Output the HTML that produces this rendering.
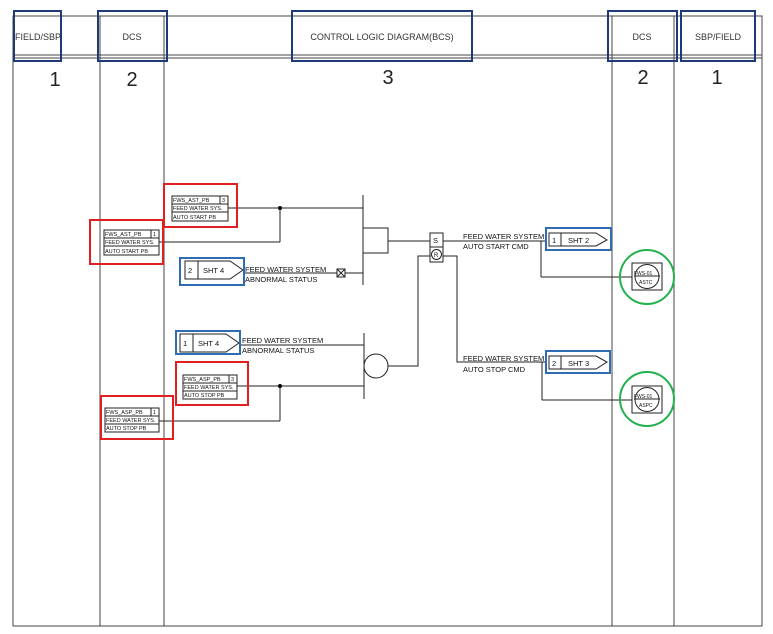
<!DOCTYPE html>
<html><head><style>body{margin:0;background:#fff}svg{display:block}text{font-family:"Liberation Sans",sans-serif}</style></head><body>
<svg width="773" height="634" viewBox="0 0 773 634" xmlns="http://www.w3.org/2000/svg">
<g stroke="#444" fill="none" stroke-width="1">
<rect x="13" y="16" width="749" height="610"/>
<line x1="13" y1="55" x2="762" y2="55"/><line x1="13" y1="58" x2="762" y2="58"/>
<line x1="100" y1="16" x2="100" y2="626"/><line x1="164" y1="16" x2="164" y2="626"/>
<line x1="612" y1="16" x2="612" y2="626"/><line x1="674" y1="16" x2="674" y2="626"/>
</g>
<g stroke="#1f3a7a" fill="none" stroke-width="2">
<rect x="14" y="11" width="47" height="50"/><rect x="98" y="11" width="69" height="50"/>
<rect x="292" y="11" width="180" height="50"/><rect x="608" y="11" width="69" height="50"/>
<rect x="681" y="11" width="74" height="50"/>
</g>
<g font-size="9" fill="#333" text-anchor="middle">
<text x="38" y="40">FIELD/SBP</text><text x="132" y="40">DCS</text>
<text x="382" y="40">CONTROL LOGIC DIAGRAM(BCS)</text><text x="642" y="40">DCS</text><text x="718" y="40">SBP/FIELD</text>
</g>
<g font-size="20" fill="#222" text-anchor="middle">
<text x="55" y="86">1</text><text x="132" y="86">2</text><text x="388" y="84">3</text><text x="643" y="84">2</text><text x="717" y="84">1</text>
</g>
<!-- lines -->
<g stroke="#222" fill="none" stroke-width="1">
<line x1="228" y1="208" x2="363" y2="208"/><line x1="159" y1="242" x2="280" y2="242"/><line x1="280" y1="208" x2="280" y2="242"/>
<line x1="243" y1="273" x2="337" y2="273"/><rect x="337" y="269" width="8" height="8"/><line x1="337" y1="269" x2="345" y2="277"/><line x1="345" y1="269" x2="337" y2="277"/>
<line x1="345" y1="273" x2="363" y2="273"/>
<line x1="363" y1="195" x2="363" y2="285"/>
<rect x="363" y="228" width="25" height="25"/>
<line x1="388" y1="241" x2="430" y2="241"/>
<rect x="430" y="233" width="13" height="14"/><rect x="430" y="247" width="13" height="15"/><circle cx="436.5" cy="254.5" r="5"/>
<line x1="443" y1="241" x2="547" y2="241"/>
<line x1="541" y1="241" x2="541" y2="277"/><line x1="541" y1="277" x2="632" y2="277"/>
<polyline points="430,256 418,256 418,366 388,366"/>
<polyline points="443,256 457,256 457,362 547,362"/>
<line x1="542" y1="362" x2="542" y2="400"/><line x1="542" y1="400" x2="632" y2="400"/>
<line x1="364" y1="333" x2="364" y2="399"/>
<circle cx="376" cy="366" r="12"/>
<line x1="240" y1="345" x2="364" y2="345"/>
<line x1="237" y1="386" x2="364" y2="386"/><line x1="159" y1="421" x2="280" y2="421"/><line x1="280" y1="386" x2="280" y2="421"/>
</g>
<circle cx="280" cy="208" r="2" fill="#000"/><circle cx="280" cy="386" r="2" fill="#000"/>
<!-- blocks -->
<g stroke="#222" fill="#fff" stroke-width="1">
<rect x="172" y="196" width="56" height="25"/><line x1="172" y1="204" x2="228" y2="204"/><line x1="172" y1="212" x2="228" y2="212"/><line x1="220" y1="196" x2="220" y2="204"/>
<rect x="104" y="230" width="55" height="25"/><line x1="104" y1="238" x2="159" y2="238"/><line x1="104" y1="246" x2="159" y2="246"/><line x1="151" y1="230" x2="151" y2="238"/>
<rect x="183" y="375" width="54" height="24"/><line x1="183" y1="383" x2="237" y2="383"/><line x1="183" y1="391" x2="237" y2="391"/><line x1="229" y1="375" x2="229" y2="383"/>
<rect x="105" y="408" width="54" height="24"/><line x1="105" y1="416" x2="159" y2="416"/><line x1="105" y1="424" x2="159" y2="424"/><line x1="151" y1="408" x2="151" y2="416"/>
<polygon points="185,261 230,261 243,270 230,279 185,279"/><line x1="198" y1="261" x2="198" y2="279"/>
<polygon points="180,334 226,334 239,343 226,352 180,352"/><line x1="193" y1="334" x2="193" y2="352"/>
<polygon points="549,233 596,233 607,240 596,246 549,246"/><line x1="561" y1="233" x2="561" y2="246"/>
<polygon points="549,356 596,356 607,362 596,369 549,369"/><line x1="561" y1="356" x2="561" y2="369"/>
<rect x="632" y="263" width="30" height="27"/><circle cx="647" cy="276.5" r="12"/><line x1="634" y1="276" x2="660" y2="276"/>
<rect x="632" y="386" width="30" height="27"/><circle cx="647" cy="399.5" r="12"/><line x1="634" y1="399" x2="660" y2="399"/>
</g>
<g font-size="5.5" fill="#111">
<text x="173" y="202">FWS_AST_PB</text><text x="222" y="202">3</text><text x="173" y="210">FEED WATER SYS.</text><text x="173" y="219">AUTO START PB</text>
<text x="105" y="236">FWS_AST_PB</text><text x="153" y="236">1</text><text x="105" y="244">FEED WATER SYS.</text><text x="105" y="253">AUTO START PB</text>
<text x="184" y="381">FWS_ASP_PB</text><text x="231" y="381">3</text><text x="184" y="389">FEED WATER SYS.</text><text x="184" y="397">AUTO STOP PB</text>
<text x="106" y="414">FWS_ASP_PB</text><text x="153" y="414">1</text><text x="106" y="422">FEED WATER SYS.</text><text x="106" y="430">AUTO STOP PB</text>
<text x="634" y="275" font-size="5">FWS-01</text><text x="639" y="284" font-size="5">ASTC</text>
<text x="634" y="398" font-size="5">FWS-01</text><text x="639" y="407" font-size="5">ASPC</text>
</g>
<g font-size="7.5" fill="#111">
<text x="188" y="273">2</text><text x="203" y="273">SHT 4</text>
<text x="183" y="346">1</text><text x="198" y="346">SHT 4</text>
<text x="552" y="243">1</text><text x="568" y="243">SHT 2</text>
<text x="552" y="366">2</text><text x="568" y="366">SHT 3</text>
<text x="433" y="243">S</text>
<text x="245" y="272">FEED WATER SYSTEM</text><text x="245" y="282">ABNORMAL STATUS</text>
<text x="242" y="343">FEED WATER SYSTEM</text><text x="242" y="353">ABNORMAL STATUS</text>
<text x="463" y="239">FEED WATER SYSTEM</text><text x="463" y="249">AUTO START CMD</text>
<text x="463" y="361">FEED WATER SYSTEM</text><text x="463" y="372">AUTO STOP CMD</text>
</g>
<text x="434" y="257" font-size="6" fill="#111">R</text>
<g fill="none" stroke-width="2">
<rect x="164" y="184" width="73" height="43" stroke="#e02020"/><rect x="90" y="220" width="73" height="44" stroke="#e02020"/>
<rect x="176" y="362" width="72" height="43" stroke="#e02020"/><rect x="101" y="396" width="72" height="43" stroke="#e02020"/>
<rect x="180" y="258" width="64" height="27" stroke="#2e6db4"/><rect x="176" y="331" width="64" height="23" stroke="#2e6db4"/>
<rect x="546" y="228" width="65" height="22" stroke="#2e6db4"/><rect x="546" y="351" width="64" height="22" stroke="#2e6db4"/>
<circle cx="647" cy="277" r="27" stroke="#22b14c"/><circle cx="647" cy="399" r="27" stroke="#22b14c"/>
</g>
</svg>
</body></html>
